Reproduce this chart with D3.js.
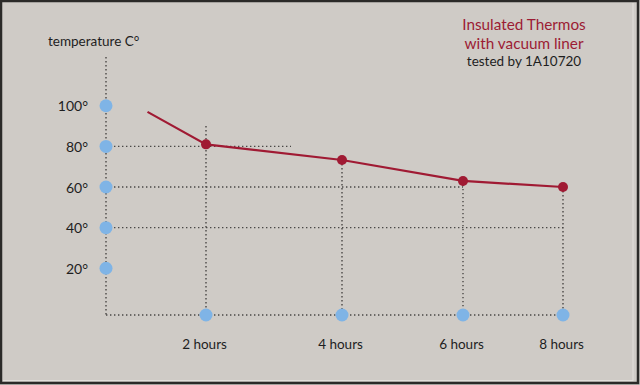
<!DOCTYPE html>
<html>
<head>
<meta charset="utf-8">
<script src="https://cdn.jsdelivr.net/npm/d3@7"></script>
<style>
  html, body { margin: 0; padding: 0; background: #cfcbc6; }
  svg { display: block; }
  text { font-family: Lato, "Noto Sans", sans-serif; }
</style>
</head>
<body>
<div id="chart"></div>
<script>
// data
const hours = [2, 4, 6, 8];
const hourLabels = ["2 hours", "4 hours", "6 hours", "8 hours"];
const temps = [81, 73.3, 63, 60];
const startHour = 0.83;   // line starts before the first reading, no dot
const startTemp = 97;
const tempTicks = [20, 40, 60, 80, 100];
const tempLabels = ["20°", "40°", "60°", "80°", "100°"];

// dotted guide lines
const rowTemps = [80, 60, 40];
const rowEnds = [3.25, 6, 8];      // hour where each row stops
const colTops = [90, 73.3, 63, 60]; // temp where each column starts

const width = 640, height = 385;

const svg = d3.select("#chart")
  .append("svg")
  .attr("width", width)
  .attr("height", height);

// background + frame
svg.append("rect")
  .attr("x", 1).attr("y", 1)
  .attr("width", width - 3).attr("height", height - 3)
  .attr("fill", "#cfcbc6")
  .attr("stroke", "#2b2a28")
  .attr("stroke-width", 2.5);
svg.append("line")
  .attr("x1", 633).attr("x2", 633).attr("y1", 3).attr("y2", 381)
  .attr("stroke", "#e2dfdb").attr("stroke-width", 1);
svg.append("line")
  .attr("x1", 3).attr("x2", 633).attr("y1", 380.5).attr("y2", 380.5)
  .attr("stroke", "#e2dfdb").attr("stroke-width", 1);

// scales (x spacing in the original is uneven, so a piecewise scale)
const x = d3.scaleLinear()
  .domain([0, 2, 4, 6, 8])
  .range([106, 206, 342, 463, 563]);
const y = d3.scaleLinear()
  .domain([-3, 124])
  .range([315, 57]);

const gridColor = "#4a4846";
const dots = "1.4,2.6";

const grid = svg.append("g")
  .attr("stroke", gridColor)
  .attr("stroke-width", 1.4)
  .attr("stroke-dasharray", dots)
  .attr("fill", "none");

// y axis and baseline
grid.append("line")
  .attr("x1", x(0)).attr("x2", x(0))
  .attr("y1", y(124)).attr("y2", y(-3));
grid.append("line")
  .attr("x1", x(0)).attr("x2", x(8))
  .attr("y1", y(-3)).attr("y2", y(-3));

// horizontal guides
grid.selectAll(".row")
  .data(rowTemps)
  .enter()
  .append("line")
  .attr("class", "row")
  .attr("x1", x(0))
  .attr("x2", (d, i) => x(rowEnds[i]))
  .attr("y1", d => y(d))
  .attr("y2", d => y(d));

// vertical guides
grid.selectAll(".col")
  .data(hours)
  .enter()
  .append("line")
  .attr("class", "col")
  .attr("x1", d => x(d))
  .attr("x2", d => x(d))
  .attr("y1", (d, i) => y(colTops[i]))
  .attr("y2", y(-3));

// blue markers on the axes
const blue = "#7fb4e6";
svg.selectAll(".ytick")
  .data(tempTicks)
  .enter()
  .append("circle")
  .attr("class", "ytick")
  .attr("cx", x(0))
  .attr("cy", d => y(d))
  .attr("r", 6.5)
  .attr("fill", blue);

svg.selectAll(".xtick")
  .data(hours)
  .enter()
  .append("circle")
  .attr("class", "xtick")
  .attr("cx", d => x(d))
  .attr("cy", y(-3))
  .attr("r", 6.5)
  .attr("fill", blue);

// axis labels
svg.selectAll(".ylabel")
  .data(tempTicks)
  .enter()
  .append("text")
  .attr("class", "ylabel")
  .attr("x", 88)
  .attr("y", d => y(d) + 5.5)
  .attr("text-anchor", "end")
  .attr("font-size", 14)
  .attr("fill", "#1e1e1e")
  .text((d, i) => tempLabels[i]);

svg.selectAll(".xlabel")
  .data(hours)
  .enter()
  .append("text")
  .attr("class", "xlabel")
  .attr("x", d => x(d) - 1.5)
  .attr("y", 348.5)
  .attr("text-anchor", "middle")
  .attr("font-size", 13.5)
  .attr("fill", "#1e1e1e")
  .text((d, i) => hourLabels[i]);

svg.append("text")
  .attr("x", 48)
  .attr("y", 46)
  .attr("font-size", 13.5)
  .attr("fill", "#1e1e1e")
  .text("temperature C°");

// the cooling curve
const red = "#a01a33";
const lineData = [[startHour, startTemp]].concat(hours.map((h, i) => [h, temps[i]]));
const line = d3.line()
  .x(d => x(d[0]))
  .y(d => y(d[1]));

svg.append("path")
  .datum(lineData)
  .attr("d", line)
  .attr("fill", "none")
  .attr("stroke", red)
  .attr("stroke-width", 2.2);

svg.selectAll(".pt")
  .data(hours)
  .enter()
  .append("circle")
  .attr("class", "pt")
  .attr("cx", d => x(d))
  .attr("cy", (d, i) => y(temps[i]))
  .attr("r", 5)
  .attr("fill", red);

// title block
const title = svg.append("g")
  .attr("text-anchor", "middle")
  .attr("transform", "translate(524,0)");
title.append("text")
  .attr("y", 29.5)
  .attr("font-size", 15.3)
  .attr("fill", "#9c1c34")
  .text("Insulated Thermos");
title.append("text")
  .attr("y", 49)
  .attr("font-size", 15.3)
  .attr("fill", "#9c1c34")
  .text("with vacuum liner");
title.append("text")
  .attr("y", 66)
  .attr("font-size", 13.5)
  .attr("fill", "#1e1e1e")
  .text("tested by 1A10720");
</script>
</body>
</html>
